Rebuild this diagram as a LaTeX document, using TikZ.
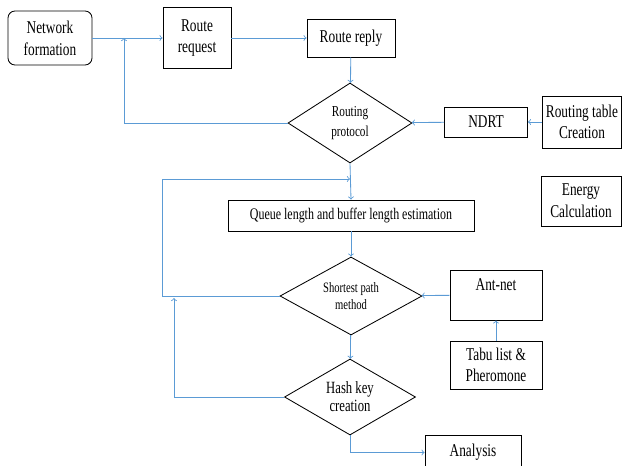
\documentclass[tikz,border=0pt]{standalone}
\usepackage{fontspec}
\setmainfont{Liberation Serif}[FakeStretch=0.74]
\usetikzlibrary{shapes}

\definecolor{linkblue}{RGB}{91,155,213}

\begin{document}
\begin{tikzpicture}[x=0.025cm,y=-0.025cm,
  box/.style={draw,line width=0.6pt,align=center,inner sep=0pt,font=\fontsize{12.8}{15.5}\selectfont},
  dia/.style={draw,line width=0.6pt,diamond,shape aspect=1.8,align=center,inner sep=0pt},
  link/.style={draw=linkblue,line width=0.6pt,->,>=to}]
% Place nodes
\clip (0,0) rectangle (622,465);

\node[box,rounded corners=5pt,minimum width=2.1cm,minimum height=1.35cm] (netform) at (50,38) {Network\\formation};
\node[box,minimum width=1.7cm,minimum height=1.525cm] (routereq) at (197,38) {Route\\request};
\node[box,minimum width=2.2cm,minimum height=0.95cm] (routerep) at (351,38) {Route reply};

\node[dia,minimum width=3.1cm,minimum height=2cm,font=\fontsize{10.8}{14}\selectfont] (routprot) at (350,123) {Routing\\protocol};
\node[box,minimum width=2.075cm,minimum height=0.75cm] (ndrt) at (486,122) {NDRT};
\node[box,minimum width=1.975cm,minimum height=1.3cm,font=\fontsize{12.8}{15}\selectfont] (rtable) at (582,122) {Routing table\\Creation};
\node[box,minimum width=2cm,minimum height=1.25cm] (energy) at (581,201) {Energy\\Calculation};

\node[box,minimum width=6.15cm,minimum height=0.775cm,font=\fontsize{11.5}{12}\selectfont] (queue) at (351,215.5) {Queue length and buffer length estimation};

\node[dia,minimum width=3.55cm,minimum height=1.95cm,font=\fontsize{10.2}{11.6}\selectfont] (shortest) at (351,296) {Shortest path\\method};
\node[box,minimum width=2.3cm,minimum height=1.25cm,text depth=15pt] (antnet) at (496,295) {Ant-net};
\node[box,minimum width=2.3cm,minimum height=1.2cm,font=\fontsize{12.8}{15}\selectfont] (tabu) at (496,365) {Tabu list \&\\Pheromone};

\node[dia,minimum width=3.275cm,minimum height=1.9cm,font=\fontsize{12.2}{12.8}\selectfont] (hashkey) at (350,397) {Hash key\\creation};
\node[box,minimum width=2.4cm,minimum height=0.875cm] (analysis) at (473,452.5) {Analysis};

\coordinate (fb1) at (124,38);
\coordinate (fb2) at (350,179);
\coordinate (fb3) at (174,298);

% Connectors
\draw[link] (netform) -- (routereq);
\draw[link] (routereq) -- (routerep);
\draw[link] (routerep) -- (routprot);
\draw[link] (routprot.west) -| (fb1);
\draw[link] (ndrt) -- (routprot);
\draw[link] (rtable) -- (ndrt);

\draw[link] (routprot.south) -- (queue.north);
\draw[link] (shortest.west) -- ++(-117,0) |- (fb2);
\draw[link] (queue) -- (shortest);
\draw[link] (antnet) -- (shortest);
\draw[link] (tabu) -- (antnet);

\draw[link] (shortest) -- (hashkey);
\draw[link] (hashkey.west) -| (fb3);
\draw[link] (hashkey.south) |- (analysis.west);

\end{tikzpicture}
\end{document}
